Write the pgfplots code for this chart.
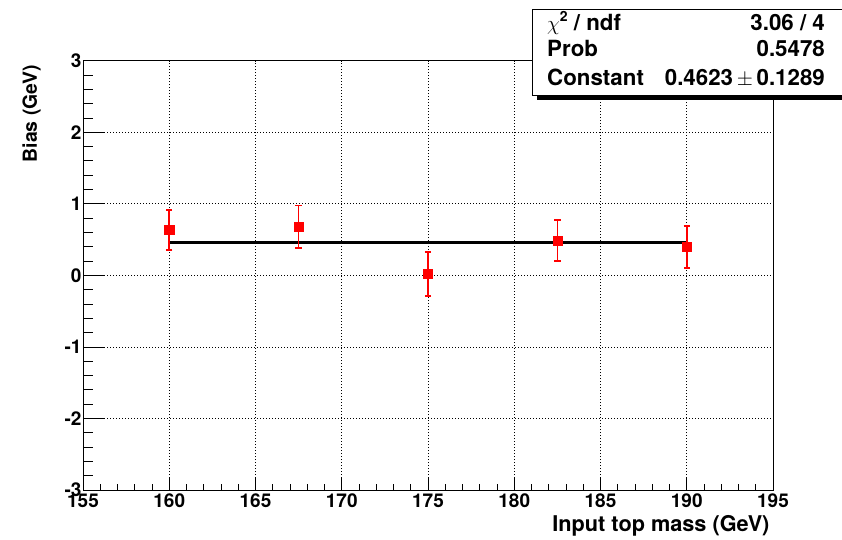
\documentclass[border=0pt]{standalone}
\usepackage{fontspec}
\setmainfont{TeX Gyre Heros}
\usepackage{pgfplots}
\pgfplotsset{compat=1.18}
\newcommand{\tickf}{\bfseries\fontsize{19}{22}\selectfont}
\newcommand{\xlabf}{\bfseries\fontsize{21.7}{25}\selectfont}
\newcommand{\ylabf}{\bfseries\fontsize{19.4}{23}\selectfont}
\newcommand{\statf}{\bfseries\fontsize{22.3}{26}\selectfont}
\begin{document}
\begin{tikzpicture}
\useasboundingbox (0,0) rectangle (842pt,539pt);
\begin{axis}[
  at={(83pt,49pt)}, anchor=south west,
  width=690pt, height=429.3pt, scale only axis,
  xmin=155, xmax=195, ymin=-3, ymax=3,
  xtick={155,160,...,195}, ytick={-3,-2,...,3},
  minor x tick num=4, minor y tick num=4,
  xtick pos=bottom, ytick pos=left,
  tick align=inside,
  xtick style={/pgfplots/major tick length=13pt,/pgfplots/minor tick length=6.5pt,line width=0.8pt,black},
  ytick style={/pgfplots/major tick length=20.7pt,/pgfplots/minor tick length=10.4pt,line width=0.8pt,black},
  grid=major,
  major grid style={black, line width=0.7pt, dash pattern=on 0.8pt off 2.2pt},
  axis line style={black, line width=1pt},
  /pgf/number format/assume math mode=true,
  tick label style={font=\tickf},
  xticklabel style={yshift=0pt},
  yticklabel style={xshift=2pt},
  xlabel={Input top mass (GeV)},
  ylabel={Bias (GeV)},
  xlabel style={font=\xlabf, at={(axis description cs:1,-0.0955)}, anchor=base east},
  ylabel style={font=\ylabf, at={(axis description cs:-0.0667,0.998)}, anchor=base east},
]
\addplot[black, line width=2.6pt] coordinates {(160,0.4623) (190,0.4623)};
\addplot[red, only marks, mark=square*, mark size=4.6pt,
  error bars/.cd, y dir=both, y explicit,
  error bar style={red, line width=1.7pt},
  error mark options={red, line width=1.7pt, mark size=3.2pt, rotate=90}]
  coordinates {
    (160,0.633)   +- (0,0.280)
    (167.5,0.680) +- (0,0.298)
    (175,0.020)   +- (0,0.305)
    (182.5,0.485) +- (0,0.285)
    (190,0.395)   +- (0,0.296)
  };
\end{axis}
% statistics box
\fill[black] (537pt,439pt) rectangle (850pt,444pt);
\filldraw[fill=white, draw=black, line width=1pt] (532pt,443pt) rectangle (850pt,529pt);
\node[anchor=base west, inner sep=0pt, font=\statf] at (547pt,508pt) {\(\chi\)\raisebox{0.42em}{\fontsize{14}{14}\selectfont 2} / ndf};
\node[anchor=base east, inner sep=0pt, font=\statf] at (825pt,508pt) {3.06 / 4};
\node[anchor=base west, inner sep=0pt, font=\statf] at (547pt,482pt) {Prob};
\node[anchor=base east, inner sep=0pt, font=\statf] at (825pt,482pt) {0.5478};
\node[anchor=base west, inner sep=0pt, font=\statf] at (547pt,453pt) {Constant};
\node[anchor=base east, inner sep=0pt, font=\statf] at (825pt,453pt) {0.4623\,\(\pm\)\,0.1289};
\end{tikzpicture}
\end{document}
